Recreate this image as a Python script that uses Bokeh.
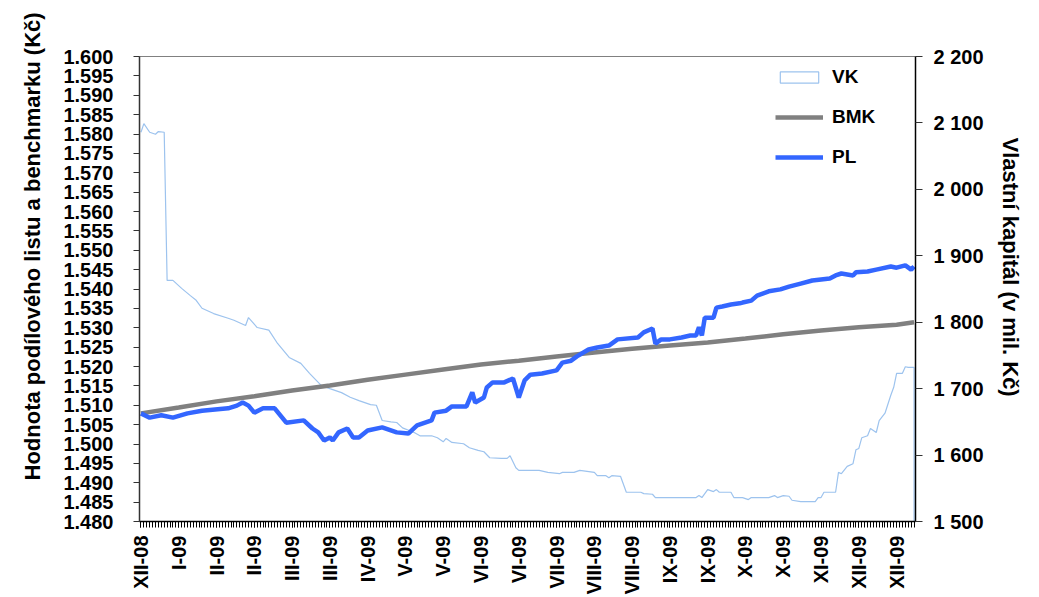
import math
from bokeh.plotting import figure
from bokeh.models import (Range1d, LinearAxis, FixedTicker, PrintfTickFormatter,
                          Legend, LegendItem, Title, ColumnDataSource)
from bokeh.embed import file_html
from bokeh.resources import INLINE

# ---------------- data ----------------
N_DAYS = 267
X_LABEL_POS = [0, 13, 26, 39, 52, 65, 78, 91, 104, 117, 130, 143, 156, 169,
               182, 195, 208, 221, 234, 247, 260]
X_LABELS = ["XII-08", "I-09", "II-09", "II-09", "III-09", "III-09", "IV-09",
            "V-09", "V-09", "VI-09", "VI-09", "VII-09", "VIII-09", "VIII-09",
            "IX-09", "IX-09", "X-09", "X-09", "XI-09", "XII-09", "XII-09"]

LEFT_TICKS = [round(1.480 + 0.005 * i, 3) for i in range(25)]
RIGHT_TICKS = [1500, 1600, 1700, 1800, 1900, 2000, 2100, 2200]
RIGHT_LABELS = ["1 500", "1 600", "1 700", "1 800", "1 900", "2 000", "2 100", "2 200"]

# VK - vlastní kapitál (right axis, mil. Kč)
vk_x = [0, 1, 3, 5, 6, 8, 9, 11, 14, 17, 19, 21, 25, 30, 32, 36, 37, 40, 44, 47,
        51, 55, 58, 62, 65, 69, 72, 75, 79, 81, 83, 86, 88, 90, 94, 96, 100, 102,
        104, 105, 107, 111, 113, 116, 118, 120, 124, 126, 127, 129, 130, 137, 140,
        144, 145, 149, 151, 156, 157, 160, 161, 162, 165, 167, 172, 173, 176, 177,
        186, 191, 192, 193, 195, 197, 198, 199, 203, 204, 207, 209, 210, 216, 218,
        219, 221, 223, 224, 227, 232, 233, 234, 235, 239, 240, 241, 243, 245, 246,
        247, 248, 250, 251, 253, 254, 256, 258, 259, 260, 262, 263, 264, 265, 266]
vk_y = [2086, 2099, 2086, 2083, 2087, 2086, 1863, 1863, 1851, 1840, 1833, 1821,
        1813, 1806, 1803, 1795, 1807, 1792, 1788, 1768, 1747, 1738, 1723, 1705,
        1700, 1694, 1687, 1682, 1676, 1675, 1652, 1650, 1649, 1641, 1634, 1629,
        1629, 1626, 1620, 1625, 1619, 1617, 1611, 1607, 1605, 1596, 1595, 1595,
        1599, 1581, 1577, 1577, 1574, 1572, 1574, 1574, 1577, 1574, 1569, 1569,
        1566, 1569, 1568, 1544, 1544, 1542, 1541, 1536, 1536, 1536, 1539, 1536,
        1548, 1545, 1548, 1544, 1544, 1536, 1536, 1533, 1536, 1536, 1539, 1536,
        1539, 1538, 1532, 1530, 1530, 1536, 1536, 1544, 1544, 1574, 1572, 1583,
        1587, 1608, 1610, 1626, 1629, 1640, 1634, 1652, 1663, 1690, 1702, 1723,
        1723, 1733, 1732, 1732, 1732]

# BMK - benchmark (left axis)
bmk_x = [0, 13, 26, 39, 52, 65, 78, 91, 104, 117, 130, 143, 156, 169, 182, 195,
         208, 221, 234, 247, 260, 266]
bmk_y = [1.5079, 1.5094, 1.5110, 1.5123, 1.5138, 1.5151, 1.5166, 1.5179, 1.5192,
         1.5205, 1.5215, 1.5226, 1.5236, 1.5246, 1.5254, 1.5262, 1.5272, 1.5283,
         1.5293, 1.5301, 1.5308, 1.5314]

# PL - hodnota podílového listu (left axis)
pl_x = [0, 3, 7, 11, 16, 21, 30, 33, 35, 37, 39, 42, 46, 50, 56, 59, 61, 63, 65,
        66, 68, 71, 73, 75, 78, 83, 88, 92, 95, 100, 101, 105, 107, 112, 114, 115,
        118, 119, 121, 125, 128, 130, 132, 134, 138, 143, 145, 148, 150, 154, 157,
        161, 164, 171, 173, 176, 177, 179, 182, 186, 189, 191, 192, 193, 194, 197,
        198, 200, 203, 206, 207, 210, 212, 216, 220, 223, 227, 231, 237, 239, 241,
        245, 246, 250, 253, 258, 260, 263, 265, 266]
pl_y = [1.5079, 1.5068, 1.5074, 1.5068, 1.5079, 1.5086, 1.5092, 1.5099, 1.5107,
        1.5099, 1.5081, 1.5092, 1.5092, 1.5055, 1.5061, 1.5040, 1.5030, 1.5009,
        1.5017, 1.5009, 1.5030, 1.5040, 1.5017, 1.5017, 1.5035, 1.5043, 1.5030,
        1.5027, 1.5048, 1.5061, 1.5081, 1.5086, 1.5097, 1.5097, 1.5133, 1.5107,
        1.5120, 1.5146, 1.5159, 1.5159, 1.5169, 1.5120, 1.5164, 1.5179, 1.5182,
        1.5190, 1.5210, 1.5215, 1.5226, 1.5244, 1.5249, 1.5254, 1.5270, 1.5275,
        1.5288, 1.5298, 1.5259, 1.5270, 1.5270, 1.5275, 1.5280, 1.5280, 1.5301,
        1.5280, 1.5326, 1.5326, 1.5352, 1.5355, 1.5360, 1.5363, 1.5365, 1.5370,
        1.5383, 1.5394, 1.5399, 1.5406, 1.5414, 1.5422, 1.5427, 1.5435, 1.5440,
        1.5435, 1.5443, 1.5445, 1.5450, 1.5458, 1.5455, 1.5461, 1.5450, 1.5458]

LEFT_TITLE = "Hodnota podílového listu a benchmarku (Kč)"
RIGHT_TITLE = "Vlastní kapitál (v mil. Kč)"

# ---------------- styling ----------------
FONT = "Liberation Sans"
C_PL = "#3366FF"
C_BMK = "#808080"
C_VK = "#9DC3EE"

p = figure(frame_width=776, frame_height=465,
           x_range=Range1d(-0.5, N_DAYS - 0.5), y_range=Range1d(1.48, 1.60),
           output_backend="svg", toolbar_location=None,
           min_border_top=56, min_border_left=139, min_border_right=5,
           min_border_bottom=5,
           background_fill_color="white", border_fill_color="white")
p.outline_line_color = "#808080"
p.outline_line_width = 1
p.xgrid.visible = False
p.ygrid.visible = False

p.extra_y_ranges = {"vk": Range1d(1500, 2200)}
vk_base = p.extra_y_ranges["vk"].start

# VK: area outline (unfilled); the outline drops to the axis at the last day
vk_src = ColumnDataSource(dict(x=vk_x + [vk_x[-1]], y=vk_y + [vk_base]))
vk_line = p.line("x", "y", source=vk_src, y_range_name="vk",
                 line_color=C_VK, line_width=1.2)
# legend swatch for the area series (draws nothing in the plot itself)
nan = float("nan")
vk_swatch = p.quad(left=[nan], right=[nan], top=[nan], bottom=[nan],
                   y_range_name="vk", fill_color="white",
                   line_color=C_VK, line_width=1.2)

bmk_r = p.line(bmk_x, bmk_y, line_color=C_BMK, line_width=4.5)
pl_r = p.line(pl_x, pl_y, line_color=C_PL, line_width=4.5)

# left axis
ya = p.yaxis[0]
ya.ticker = FixedTicker(ticks=LEFT_TICKS)
ya.formatter = PrintfTickFormatter(format="%.3f")
ya.axis_line_color = "#333333"
ya.axis_line_width = 1.5
ya.major_tick_out = 6
ya.major_tick_in = 0
ya.major_tick_line_color = "#333333"
ya.major_label_standoff = 20
ya.major_label_text_font = FONT
ya.major_label_text_font_style = "bold"
ya.major_label_text_font_size = "20px"
ya.major_label_text_color = "black"

# right axis
ra = LinearAxis(y_range_name="vk", ticker=FixedTicker(ticks=RIGHT_TICKS),
                major_label_overrides={t: l for t, l in zip(RIGHT_TICKS, RIGHT_LABELS)})
ra.axis_line_color = "black"
ra.axis_line_width = 1.5
ra.major_tick_out = 7
ra.major_tick_in = 0
ra.major_tick_line_color = "#333333"
ra.major_label_standoff = 11
ra.major_label_text_font = FONT
ra.major_label_text_font_style = "bold"
ra.major_label_text_font_size = "20px"
ra.major_label_text_color = "black"
p.add_layout(ra, "right")

# x axis
xa = p.xaxis[0]
xa.ticker = FixedTicker(ticks=X_LABEL_POS, minor_ticks=list(range(N_DAYS)))
xa.major_label_overrides = {pos: lab for pos, lab in zip(X_LABEL_POS, X_LABELS)}
xa.major_label_orientation = math.pi / 2
xa.axis_line_color = "black"
xa.axis_line_width = 1.5
xa.major_tick_out = 6
xa.major_tick_in = 0
xa.minor_tick_out = 6
xa.minor_tick_in = 0
xa.major_tick_line_color = "black"
xa.minor_tick_line_color = "black"
xa.major_label_standoff = 8
xa.major_label_text_font = FONT
xa.major_label_text_font_style = "bold"
xa.major_label_text_font_size = "20px"
xa.major_label_text_color = "black"

# axis titles as side-panel titles
lt = Title(text=LEFT_TITLE, align="left", offset=41, standoff=32,
           text_font=FONT, text_font_style="bold", text_font_size="22px",
           text_color="black")
p.add_layout(lt, "left")
rt = Title(text=RIGHT_TITLE, align="left", offset=81, standoff=22,
           text_font=FONT, text_font_style="bold", text_font_size="22px",
           text_color="black")
p.add_layout(rt, "right")

legend = Legend(items=[LegendItem(label="VK", renderers=[vk_swatch]),
                       LegendItem(label="BMK", renderers=[bmk_r]),
                       LegendItem(label="PL", renderers=[pl_r])],
                location=(636, 353), orientation="vertical",
                glyph_width=48, glyph_height=14, label_standoff=9,
                spacing=18, padding=0, margin=0,
                border_line_alpha=0, background_fill_alpha=0,
                label_text_font=FONT, label_text_font_style="bold",
                label_text_font_size="19px", label_text_color="black")
p.add_layout(legend, "center")

open("out.html", "w").write(file_html(p, INLINE))
